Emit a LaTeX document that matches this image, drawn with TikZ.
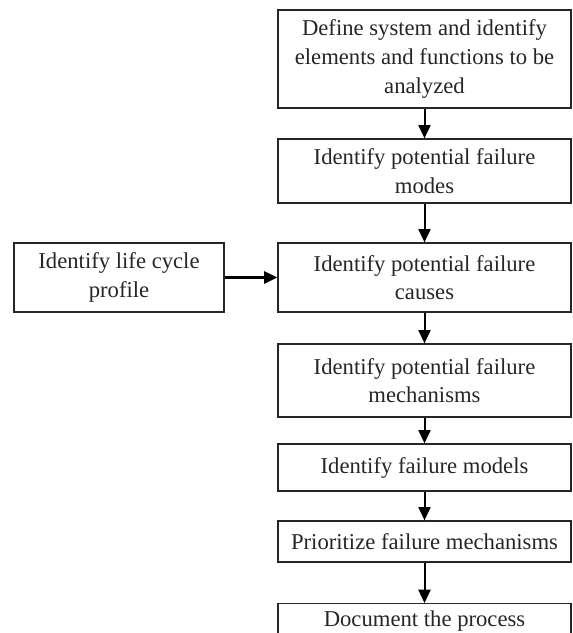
\documentclass[tikz,border=0pt]{standalone}
\usepackage{fontspec}
\setmainfont{Liberation Serif}
\usetikzlibrary{arrows.meta}

\begin{document}
\begin{tikzpicture}
  [x=0.75pt,y=-0.75pt,
   every node/.style={draw,line width=0.9pt,align=center,inner sep=0pt,
     font=\fontsize{17}{21.5}\selectfont,color=black!85},
   box/.style={minimum width=219.75pt},
   arr/.style={line width=1.5pt,-{Triangle[length=10pt,width=9pt]}}]
  \useasboundingbox (0,0) rectangle (573,633);
  \clip (0,0) rectangle (573,633);

  \node[box,minimum height=73.5pt] (n1) at (424.5,59) {Define system and identify\\elements and functions to be\\analyzed};
  \node[box,minimum height=48pt] (n2) at (424.5,171) {Identify potential failure\\modes};
  \node[box,minimum height=51.75pt] (n3) at (424.5,277.5) {Identify potential failure\\causes};
  \node[box,minimum height=54.75pt] (n4) at (424.5,380.5) {Identify potential failure\\mechanisms};
  \node[box,minimum height=35.25pt] (n5) at (424.5,467.5) {Identify failure models};
  \node[box,minimum height=30.75pt] (n6) at (424.5,541.5) {Prioritize failure mechanisms};
  \node[box,minimum height=26pt] (n7) at (424.5,621) {Document the process};

  \node[minimum width=157.5pt,minimum height=51.75pt] (lc) at (119,277.5) {Identify life cycle\\profile};


  \draw[arr] (n1) -- (n2);
  \draw[arr] (n2) -- (n3);
  \draw[arr] (n3) -- (n4);
  \draw[arr] (n4) -- (n5);
  \draw[arr] (n5) -- (n6);
  \draw[arr] (n6) -- (n7);

  \draw[arr,line width=2.2pt] (lc) -- (n3);
\end{tikzpicture}
\end{document}
